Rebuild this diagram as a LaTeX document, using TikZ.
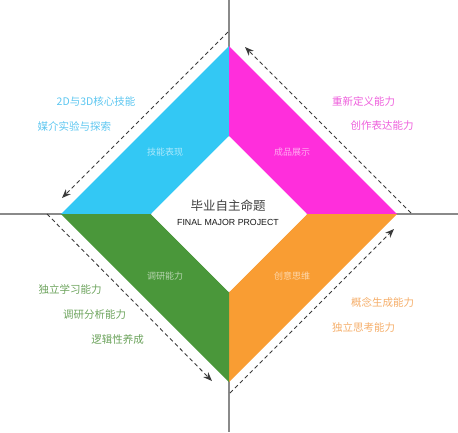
\documentclass[tikz,border=0pt]{standalone}
\usepackage{fontspec}
\setmainfont{Liberation Sans}
\newfontfamily\cjk{Noto Sans CJK SC}
\usetikzlibrary{arrows.meta}
\definecolor{cyanfill}{HTML}{33C8F4}
\definecolor{magfill}{HTML}{FF2EDC}
\definecolor{orgfill}{HTML}{F99D33}
\definecolor{grnfill}{HTML}{4A973A}
\definecolor{cyantext}{HTML}{5CC6F0}
\definecolor{magtext}{HTML}{EE5FDC}
\definecolor{grntext}{HTML}{6CA35C}
\definecolor{orgtext}{HTML}{F5AE6A}
\definecolor{axisgray}{HTML}{8A8A8A}
\definecolor{dashgray}{HTML}{3A3A3A}
\tikzset{
  axisline/.style={draw=axisgray, line width=1.4pt},
  flowarrow/.style={draw=dashgray, line width=0.9pt, dash pattern=on 4pt off 3pt,
    -{Stealth[length=9pt,width=7pt]}},
  lbl/.style={inner sep=0pt, font=\cjk\fontsize{10.5}{12}\selectfont},
  inlbl/.style={inner sep=0pt, font=\cjk\fontsize{9}{11}\selectfont},
}
\begin{document}
\begin{tikzpicture}[x=1pt,y=-1pt]
\useasboundingbox (0,0) rectangle (458,432);
% axes
\coordinate (axT) at (229,0);
\coordinate (axB) at (229,432);
\coordinate (axL) at (0,214);
\coordinate (axR) at (458,214);
\draw[axisline] (axT) -- (axB);
\draw[axisline] (axL) -- (axR);
% diamond vertices
\coordinate (oL) at (61,214);
\coordinate (oT) at (229,46);
\coordinate (oR) at (397,214);
\coordinate (oB) at (229,382);
\coordinate (iL) at (151,214);
\coordinate (iT) at (229,136);
\coordinate (iR) at (307,214);
\coordinate (iB) at (229,292);
\fill[cyanfill] (oL) -- (oT) -- (iT) -- (iL) -- cycle;
\fill[magfill] (oT) -- (oR) -- (iR) -- (iT) -- cycle;
\fill[orgfill] (oR) -- (oB) -- (iB) -- (iR) -- cycle;
\fill[grnfill] (oB) -- (oL) -- (iL) -- (iB) -- cycle;
\fill[white] (iL) -- (iT) -- (iR) -- (iB) -- cycle;
% dashed arrows
\coordinate (tlS) at (228,32);
\coordinate (tlE) at (62,198);
\coordinate (blS) at (47,214);
\coordinate (blE) at (212,381);
\coordinate (brS) at (230,393);
\coordinate (brE) at (394,229);
\coordinate (trS) at (411,213);
\coordinate (trE) at (245,47);
\draw[flowarrow] (tlS) -- (tlE);
\draw[flowarrow] (blS) -- (blE);
\draw[flowarrow] (brS) -- (brE);
\draw[flowarrow] (trS) -- (trE);
% centre
\node[inner sep=0pt, font=\cjk\fontsize{12.5}{14}\selectfont, text=black!75] (title) at (228,206) {毕业自主命题};
\node[inner sep=0pt, font=\fontsize{8.8}{10}\selectfont, text=black!90] (titleen) at (228,222) {FINAL MAJOR PROJECT};
% inner labels
\node[inlbl, text=white!60!cyanfill] (q1) at (165,152) {技能表现};
\node[inlbl, text=white!60!magfill] (q2) at (292,152) {成品展示};
\node[inlbl, text=white!60!grnfill] (q3) at (165,276) {调研能力};
\node[inlbl, text=white!60!orgfill] (q4) at (292,276) {创意思维};
% outer labels
\node[lbl, text=cyantext] (a1) at (96,101) {2D与3D核心技能};
\node[lbl, text=cyantext] (a2) at (74.5,126) {媒介实验与探索};
\node[lbl, text=magtext] (b1) at (363.5,101) {重新定义能力};
\node[lbl, text=magtext] (b2) at (382,126) {创作表达能力};
\node[lbl, text=grntext] (c1) at (70,289) {独立学习能力};
\node[lbl, text=grntext] (c2) at (94.5,315) {调研分析能力};
\node[lbl, text=grntext] (c3) at (117.5,339) {逻辑性养成};
\node[lbl, text=orgtext] (d1) at (382.5,302) {概念生成能力};
\node[lbl, text=orgtext] (d2) at (363.5,327) {独立思考能力};
\end{tikzpicture}
\end{document}
